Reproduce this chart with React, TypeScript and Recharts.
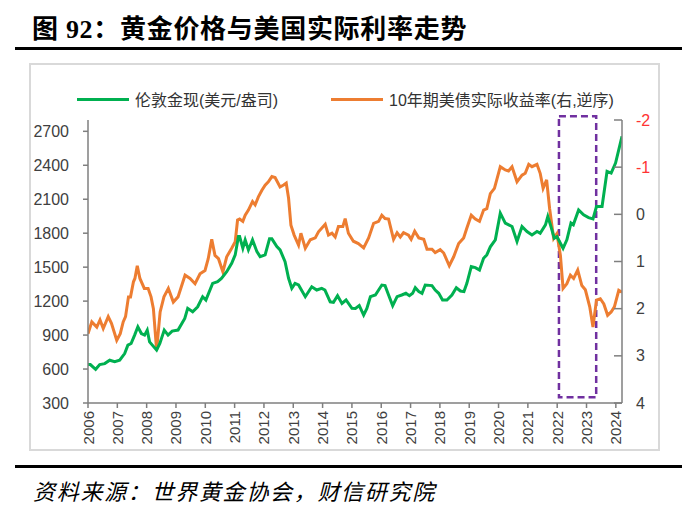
import React from 'react';
import { LineChart, Line, XAxis, YAxis, ReferenceArea } from 'recharts';

// gold, London spot (USD/oz)
const goldT = [
  2006.0, 2006.08, 2006.26, 2006.4, 2006.57, 2006.74, 2006.91, 2007.08, 2007.25, 2007.36, 2007.47, 2007.59,
  2007.7, 2007.82, 2007.93, 2008.02, 2008.1, 2008.34, 2008.45, 2008.6, 2008.73, 2008.87, 2009.07, 2009.3,
  2009.4, 2009.57, 2009.74, 2009.91, 2010.02, 2010.25, 2010.42, 2010.55, 2010.73, 2010.9, 2011.02, 2011.13,
  2011.17, 2011.28, 2011.36, 2011.47, 2011.61, 2011.76, 2011.87, 2012.04, 2012.19, 2012.27, 2012.44, 2012.55,
  2012.72, 2012.84, 2012.95, 2013.06, 2013.18, 2013.41, 2013.63, 2013.8, 2013.97, 2014.08, 2014.26, 2014.37,
  2014.51, 2014.66, 2014.8, 2015.0, 2015.12, 2015.25, 2015.4, 2015.51, 2015.63, 2015.8, 2016.02, 2016.13,
  2016.25, 2016.39, 2016.54, 2016.7, 2016.84, 2016.96, 2017.07, 2017.16, 2017.28, 2017.39, 2017.5, 2017.73,
  2017.84, 2017.96, 2018.09, 2018.24, 2018.41, 2018.56, 2018.7, 2018.82, 2018.92, 2019.07, 2019.21, 2019.35,
  2019.49, 2019.6, 2019.72, 2019.89, 2020.06, 2020.23, 2020.46, 2020.63, 2020.8, 2020.97, 2021.14, 2021.31,
  2021.42, 2021.6, 2021.68, 2021.77, 2021.9, 2021.99, 2022.2, 2022.33, 2022.47, 2022.55, 2022.73, 2022.9,
  2023.07, 2023.22, 2023.34, 2023.53, 2023.7, 2023.84, 2023.99, 2024.21,
];
const goldV = [
  640, 640, 598, 640, 648, 678, 665, 678, 737, 811, 826, 900,
  973, 914, 900, 944, 840, 767, 826, 944, 900, 935, 944, 1047,
  1136, 1106, 1150, 1239, 1210, 1357, 1372, 1400, 1460, 1534, 1608, 1770,
  1770, 1667, 1741, 1652, 1741, 1637, 1593, 1608, 1750, 1750, 1682, 1652,
  1549, 1402, 1313, 1357, 1343, 1239, 1327, 1298, 1313, 1298, 1194, 1189,
  1248, 1180, 1210, 1136, 1135, 1160, 1077, 1136, 1239, 1254, 1342, 1337,
  1254, 1160, 1239, 1254, 1269, 1248, 1269, 1318, 1284, 1269, 1342, 1337,
  1298, 1269, 1210, 1210, 1254, 1318, 1289, 1284, 1357, 1505, 1496, 1475,
  1579, 1608, 1680, 1741, 1977, 1889, 1859, 1726, 1859, 1815, 1785, 1815,
  1800, 1874, 1947, 1874, 1756, 1770, 1667, 1741, 1889, 1874, 2006, 1962,
  1938, 1926, 2036, 2036, 2346, 2331, 2420, 2656,
];

// US 10y real yield (%), right axis, reversed
const rateT = [
  2006.0, 2006.13, 2006.3, 2006.41, 2006.52, 2006.69, 2006.8, 2006.98, 2007.1, 2007.2, 2007.28, 2007.38,
  2007.45, 2007.55, 2007.6, 2007.68, 2007.77, 2007.92, 2008.05, 2008.15, 2008.23, 2008.34, 2008.46, 2008.59,
  2008.74, 2008.91, 2009.07, 2009.31, 2009.48, 2009.65, 2009.82, 2009.99, 2010.1, 2010.22, 2010.33, 2010.45,
  2010.6, 2010.73, 2010.9, 2011.02, 2011.1, 2011.17, 2011.28, 2011.36, 2011.47, 2011.61, 2011.7, 2011.81,
  2011.93, 2012.04, 2012.15, 2012.27, 2012.38, 2012.55, 2012.67, 2012.76, 2012.84, 2012.92, 2013.03, 2013.18,
  2013.26, 2013.41, 2013.58, 2013.75, 2013.86, 2014.09, 2014.2, 2014.32, 2014.43, 2014.54, 2014.69, 2014.77,
  2014.88, 2015.05, 2015.22, 2015.4, 2015.57, 2015.74, 2015.91, 2016.02, 2016.13, 2016.25, 2016.42, 2016.54,
  2016.65, 2016.76, 2016.93, 2017.02, 2017.14, 2017.28, 2017.45, 2017.56, 2017.73, 2017.84, 2018.01, 2018.13,
  2018.32, 2018.47, 2018.64, 2018.81, 2018.92, 2019.07, 2019.21, 2019.35, 2019.49, 2019.6, 2019.72, 2019.86,
  2020.06, 2020.23, 2020.34, 2020.46, 2020.63, 2020.8, 2020.91, 2021.03, 2021.14, 2021.31, 2021.42, 2021.52,
  2021.64, 2021.74, 2021.88, 2021.99, 2022.11, 2022.2, 2022.33, 2022.45, 2022.56, 2022.7, 2022.84, 2022.96,
  2023.11, 2023.22, 2023.34, 2023.47, 2023.59, 2023.72, 2023.84, 2023.95, 2024.1, 2024.21,
];
const rateV = [
  2.53, 2.28, 2.39, 2.24, 2.42, 2.17, 2.31, 2.67, 2.53, 2.28, 2.17, 1.75,
  1.75, 1.43, 1.36, 1.09, 1.36, 1.57, 1.57, 1.75, 2.0, 2.88, 2.07, 1.75,
  1.57, 1.86, 1.75, 1.29, 1.36, 1.47, 1.26, 1.19, 0.94, 0.53, 0.87, 0.94,
  1.22, 0.9, 0.72, 0.58, 0.12, 0.1, 0.15, 0.02, -0.09, -0.27, -0.2, -0.37,
  -0.51, -0.62, -0.69, -0.8, -0.78, -0.58, -0.62, -0.66, -0.34, 0.23, 0.44, 0.65,
  0.4, 0.72, 0.54, 0.5, 0.37, 0.21, 0.44, 0.4, 0.48, 0.26, 0.26, 0.09,
  0.4, 0.57, 0.62, 0.71, 0.5, 0.19, 0.15, 0.02, 0.09, 0.1, 0.53, 0.39,
  0.48, 0.39, 0.44, 0.53, 0.36, 0.5, 0.53, 0.74, 0.74, 0.81, 0.75, 0.82,
  1.09, 0.9, 0.62, 0.5, 0.29, 0.02, 0.1, 0.15, -0.09, -0.12, -0.44, -0.55,
  -1.01, -0.94, -0.92, -1.01, -0.69, -0.83, -0.87, -1.06, -1.01, -1.06, -0.87, -0.55,
  -0.73, -0.13, 0.51, 0.41, 0.87, 1.57, 1.47, 1.29, 1.36, 1.18, 1.51, 1.6,
  1.96, 2.39, 1.82, 1.79, 1.9, 2.14, 2.07, 1.96, 1.61, 1.65,
];

const yearTicks = [
  2006, 2007, 2008, 2009, 2010, 2011, 2012, 2013, 2014, 2015,
  2016, 2017, 2018, 2019, 2020, 2021, 2022, 2023, 2024,
];
const leftTicks = [300, 600, 900, 1200, 1500, 1800, 2100, 2400, 2700];
const rightTicks = [-2, -1, 0, 1, 2, 3, 4];
const boxX = [2022.06, 2023.33];
const boxY = [-2.08, 3.88];

const goldData = goldT.map((t, i) => ({ t, gold: goldV[i] }));
const rateData = rateT.map((t, i) => ({ t, rate: rateV[i] }));

const AXIS = '#7f7f7f';
const LABEL = '#404040';
const NUM_FONT = "'Liberation Sans', Arial, sans-serif";
const CJK_SANS = "'Liberation Sans', 'Noto Sans CJK SC', sans-serif";
const CJK_SERIF = "'Liberation Serif', 'Noto Sans CJK SC', serif";

function YearTick(props: any) {
  const { x, y, payload } = props;
  return (
    <text
      x={x}
      y={y}
      transform={`rotate(-90, ${x}, ${y})`}
      textAnchor="end"
      dominantBaseline="central"
      fill={LABEL}
      fontSize={15}
      fontFamily={NUM_FONT}
    >
      {payload.value}
    </text>
  );
}

function RightTick(props: any) {
  const { x, y, payload } = props;
  const v = payload.value;
  return (
    <g>
      <line x1={x - 14} x2={x - 22} y1={y} y2={y} stroke={AXIS} strokeWidth={1.5} />
      <text x={x} y={y} dy={5.5} fill={v < 0 ? '#ff3333' : LABEL} fontSize={16} fontFamily={NUM_FONT}>
        {v}
      </text>
    </g>
  );
}

function LegendItem({ left, color, label }: { left: number; color: string; label: string }) {
  return (
    <div style={{ position: 'absolute', left, top: 88, height: 22, display: 'flex', alignItems: 'center' }}>
      <div style={{ width: 52, height: 3, background: color }} />
      <span style={{ marginLeft: 6, fontSize: 16, color: '#333', fontFamily: CJK_SANS, whiteSpace: 'nowrap' }}>
        {label}
      </span>
    </div>
  );
}

export default function App() {
  return (
    <div style={{ position: 'absolute', left: 0, top: 0, width: 697, height: 514, background: '#fff' }}>
      <div
        style={{
          position: 'absolute', left: 32, top: 13, lineHeight: '34px', fontSize: 26, fontWeight: 'bold',
          letterSpacing: 0.7, fontFamily: CJK_SERIF, color: '#000', whiteSpace: 'nowrap',
        }}
      >
        图 92：黄金价格与美国实际利率走势
      </div>
      <div style={{ position: 'absolute', left: 15, top: 47, width: 667, height: 3, background: '#000' }} />

      <div
        style={{
          position: 'absolute', left: 29, top: 63, width: 631, height: 388,
          border: '2px solid #d9d9d9', boxSizing: 'border-box',
        }}
      />

      <LegendItem left={77} color="#00b050" label="伦敦金现(美元/盎司)" />
      <LegendItem left={331} color="#ed7d31" label="10年期美债实际收益率(右,逆序)" />

      <div style={{ position: 'absolute', left: 0, top: 0 }}>
        <LineChart width={697} height={514} margin={{ top: 120, right: 30, bottom: 61, left: 28 }}>
          <XAxis
            type="number"
            dataKey="t"
            domain={[2006, 2024.21]}
            allowDataOverflow
            ticks={yearTicks}
            interval={0}
            height={50}
            stroke={AXIS}
            strokeWidth={1.5}
            tickSize={5}
            tickMargin={3}
            tick={<YearTick />}
          />
          <YAxis
            yAxisId="left"
            orientation="left"
            domain={[300, 2800]}
            allowDataOverflow
            ticks={leftTicks}
            interval={0}
            width={60}
            stroke={AXIS}
            strokeWidth={1.5}
            tickSize={5}
            tickMargin={14}
            tick={{ fill: LABEL, fontSize: 16, fontFamily: NUM_FONT }}
          />
          <YAxis
            yAxisId="right"
            orientation="right"
            domain={[-2, 4]}
            reversed
            allowDataOverflow
            ticks={rightTicks}
            interval={0}
            width={45}
            stroke={AXIS}
            strokeWidth={1.5}
            tickLine={false}
            tickSize={0}
            tickMargin={14}
            tick={<RightTick />}
          />
          <Line
            yAxisId="right"
            data={rateData}
            dataKey="rate"
            type="linear"
            stroke="#ed7d31"
            strokeWidth={3}
            dot={false}
            isAnimationActive={false}
          />
          <Line
            yAxisId="left"
            data={goldData}
            dataKey="gold"
            type="linear"
            stroke="#00b050"
            strokeWidth={3}
            dot={false}
            isAnimationActive={false}
          />
          <ReferenceArea
            yAxisId="right"
            x1={boxX[0]}
            x2={boxX[1]}
            y1={boxY[0]}
            y2={boxY[1]}
            ifOverflow="visible"
            fill="none"
            stroke="#7030a0"
            strokeWidth={2.5}
            strokeDasharray="7 4"
          />
        </LineChart>
      </div>

      <div style={{ position: 'absolute', left: 15, top: 465, width: 667, height: 3, background: '#000' }} />
      <div
        style={{
          position: 'absolute', left: 33, top: 479, lineHeight: '28px', fontSize: 22, fontStyle: 'italic',
          letterSpacing: 1.7, fontFamily: CJK_SERIF, color: '#000', whiteSpace: 'nowrap',
        }}
      >
        资料来源：世界黄金协会，财信研究院
      </div>
    </div>
  );
}
